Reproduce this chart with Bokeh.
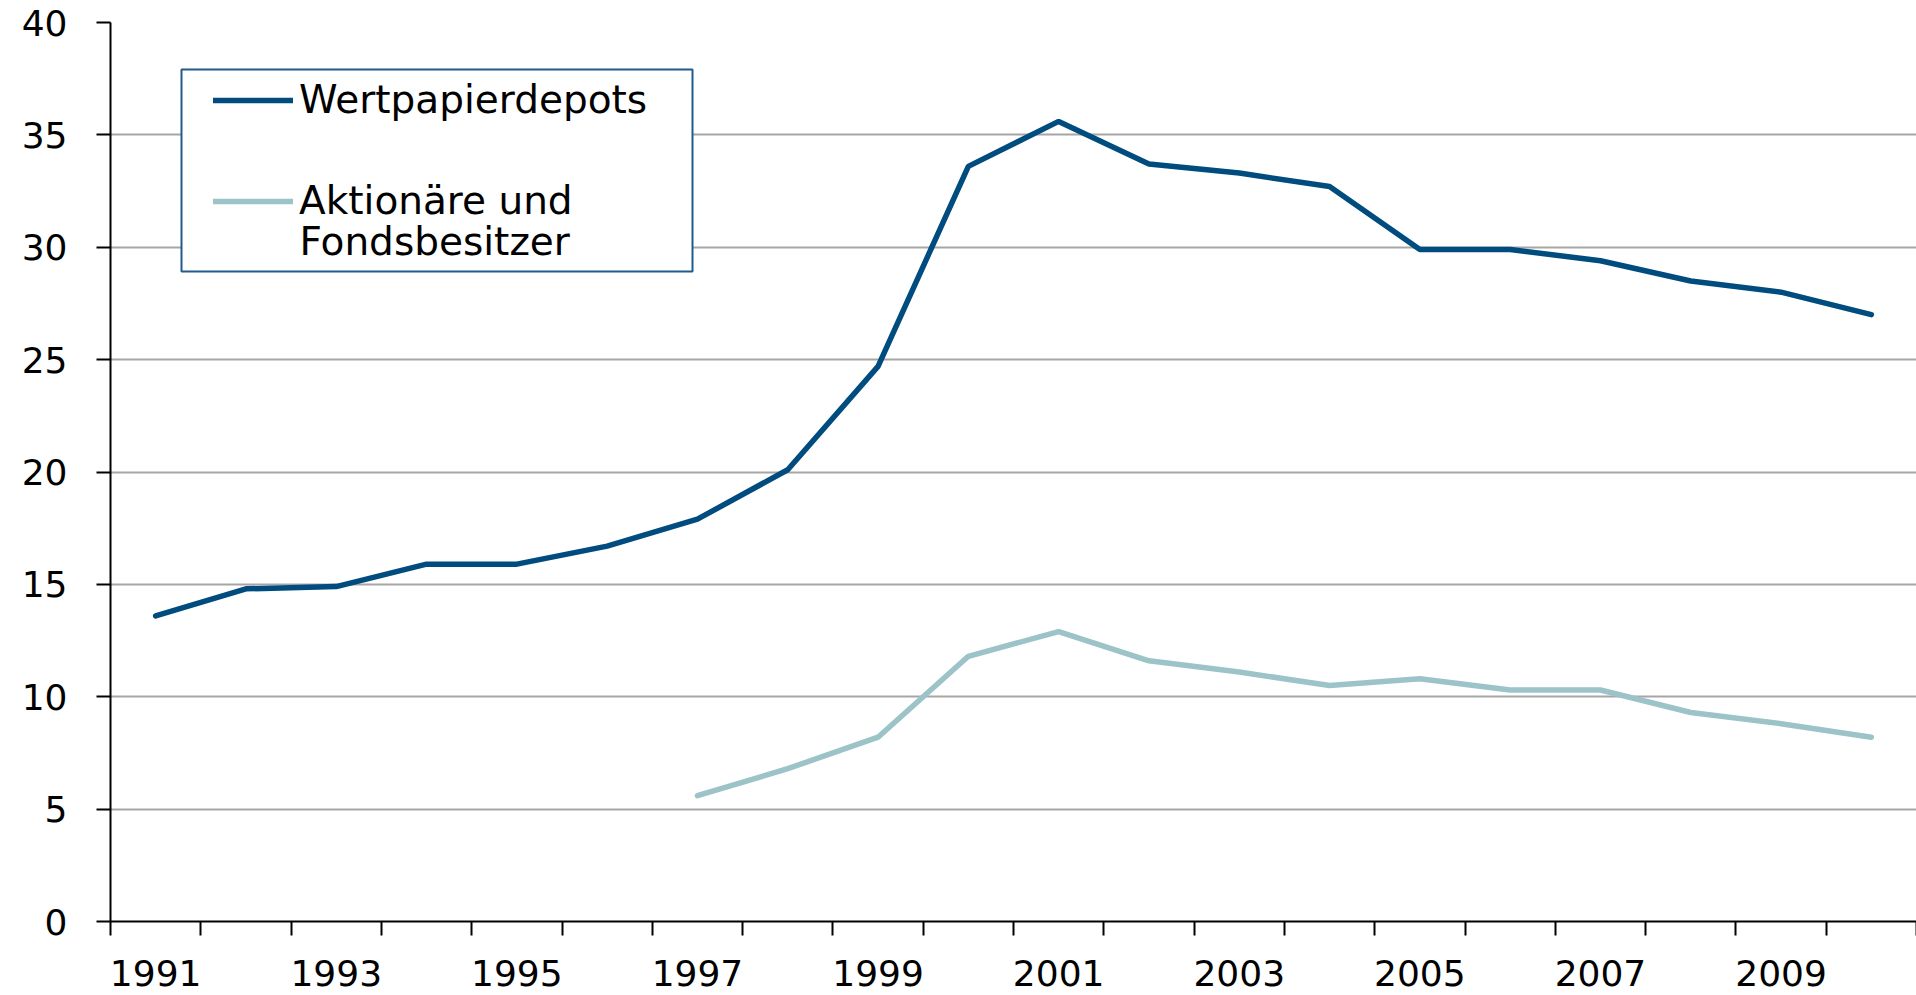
from bokeh.plotting import figure
from bokeh.models import FixedTicker, Range1d, Legend, LegendItem, Label, BoxAnnotation
from bokeh.embed import file_html
from bokeh.resources import INLINE

years = list(range(1991, 2011))
depots = [13.6, 14.8, 14.9, 15.9, 15.9, 16.7, 17.9, 20.1, 24.7, 33.6,
          35.6, 33.7, 33.3, 32.7, 29.9, 29.9, 29.4, 28.5, 28.0, 27.0]
akt_years = list(range(1997, 2011))
aktionaere = [5.6, 6.8, 8.2, 11.8, 12.9, 11.6, 11.1, 10.5, 10.8, 10.3,
              10.3, 9.3, 8.8, 8.2]
y_ticks = [0, 5, 10, 15, 20, 25, 30, 35, 40]
legend_labels = ["Wertpapierdepots", "Aktionäre und", "Fondsbesitzer"]

DARK = "#004C7E"
LIGHT = "#9BC3C8"
BORDER = "#1F5B8C"
FONT = "DejaVu Sans"

def xpos(ys):
    return [years.index(y) + 0.5 for y in ys]

p = figure(width=1916, height=995, output_backend="svg", toolbar_location=None,
           x_range=Range1d(0, len(years)), y_range=Range1d(0, 40),
           min_border_left=110, min_border_right=0, min_border_top=22,
           min_border_bottom=74)
p.outline_line_color = None
p.background_fill_color = "white"

r1 = p.line(xpos(years), depots, line_color=DARK, line_width=5.5, line_cap="round")
r2 = p.line(xpos(akt_years), aktionaere, line_color=LIGHT, line_width=5.5, line_cap="round")

# x axis: labels at centres of odd years, small ticks at category boundaries
label_ticks = [years.index(y) + 0.5 for y in years if y % 2 == 1]
p.xaxis.ticker = FixedTicker(ticks=label_ticks, minor_ticks=list(range(0, len(years) + 1)))
p.xaxis.major_label_overrides = {years.index(y) + 0.5: str(y) for y in years if y % 2 == 1}
p.xaxis.major_tick_line_color = None
p.xaxis.major_tick_out = 0
p.xaxis.major_tick_in = 0
p.xaxis.minor_tick_line_color = "black"
p.xaxis.minor_tick_line_width = 2
p.xaxis.minor_tick_out = 14
p.xaxis.minor_tick_in = 0
p.xaxis.axis_line_color = "black"
p.xaxis.axis_line_width = 2
p.xaxis.major_label_text_font = FONT
p.xaxis.major_label_text_font_size = "36px"
p.xaxis.major_label_text_color = "black"
p.xaxis.major_label_standoff = 24

# y axis
p.yaxis.ticker = FixedTicker(ticks=y_ticks)
p.yaxis.major_tick_line_color = "black"
p.yaxis.major_tick_line_width = 2
p.yaxis.major_tick_out = 14
p.yaxis.major_tick_in = 0
p.yaxis.minor_tick_line_color = None
p.yaxis.axis_line_color = "black"
p.yaxis.axis_line_width = 2
p.yaxis.major_label_text_font = FONT
p.yaxis.major_label_text_font_size = "36px"
p.yaxis.major_label_text_color = "black"
p.yaxis.major_label_standoff = 29

p.xgrid.grid_line_color = None
p.ygrid.ticker = FixedTicker(ticks=y_ticks)
p.ygrid.grid_line_color = "#A6A6A6"
p.ygrid.grid_line_width = 2

# legend frame
box = BoxAnnotation(left=71, right=582, bottom=650, top=852,
                    left_units="screen", right_units="screen",
                    bottom_units="screen", top_units="screen",
                    fill_color="white", fill_alpha=1,
                    line_color=BORDER, line_width=2, line_alpha=1)
p.add_layout(box)

legend = Legend(items=[LegendItem(label=legend_labels[0], renderers=[r1]),
                       LegendItem(label=legend_labels[1], renderers=[r2])],
                location=(103, 698))
legend.label_text_font = FONT
legend.label_text_font_size = "39px"
legend.label_text_color = "black"
legend.glyph_width = 80
legend.glyph_height = 40
legend.label_standoff = 6
legend.padding = 0
legend.spacing = 56
legend.margin = 0
legend.border_line_color = None
legend.background_fill_alpha = 0
p.add_layout(legend, "center")

extra = Label(x=189, y=680, x_units="screen", y_units="screen",
              text=legend_labels[2], text_font=FONT, text_font_size="39px",
              text_color="black", text_baseline="middle", text_align="left")
p.add_layout(extra)

open("out.html", "w").write(file_html(p, INLINE))
